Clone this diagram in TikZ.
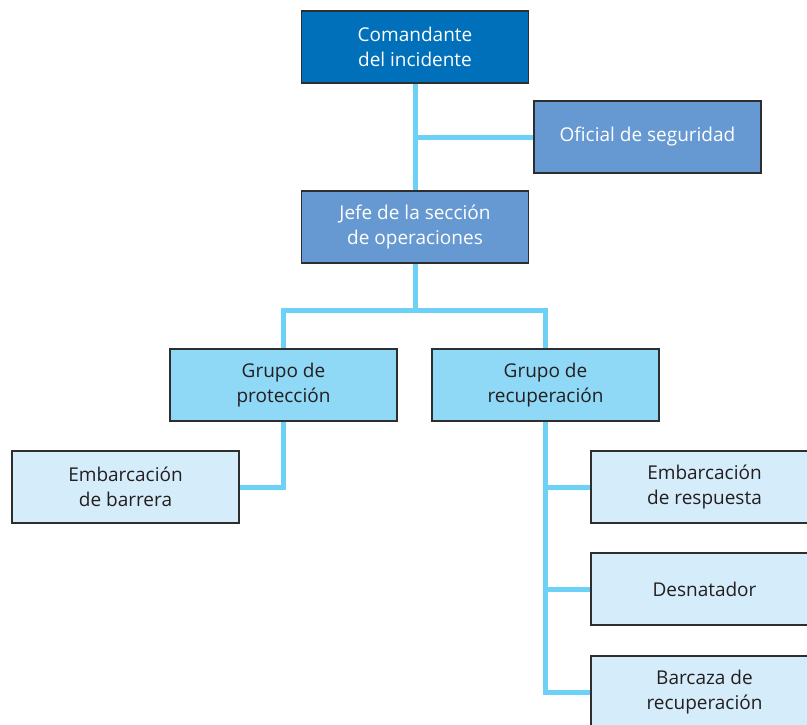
\documentclass[tikz,border=0pt]{standalone}
\usepackage{fontspec}
\setmainfont{Open Sans}
\usetikzlibrary{backgrounds}
\definecolor{cmdblue}{HTML}{0070BA}
\definecolor{midblue}{HTML}{6699D1}
\definecolor{grpblue}{HTML}{8FD8F6}
\definecolor{paleblue}{HTML}{D5ECFA}
\definecolor{linkblue}{HTML}{6DD0F5}
\definecolor{boxedge}{HTML}{2E2E2E}
\definecolor{inktext}{HTML}{231F20}
\tikzset{
  unit box/.style={draw=boxedge, line width=1.2pt, minimum width=227pt,
    minimum height=72pt, inner sep=0pt, align=center,
    font=\fontsize{19}{25}\selectfont},
  chief/.style={unit box, fill=cmdblue, text=white},
  section/.style={unit box, fill=midblue, text=white},
  group/.style={unit box, fill=grpblue, text=inktext},
  resource/.style={unit box, fill=paleblue, text=inktext},
  link/.style={draw=linkblue, line width=5pt}
}
\begin{document}
\begin{tikzpicture}[x=1pt, y=-1pt]
  \useasboundingbox (0,0) rectangle (807,724);
  \clip (0,0) rectangle (807,724);

  % command staff
  \node[chief]   (com)  at (415,47)   {Comandante\\del incidente};
  \node[section] (ofi)  at (647.5,137) {Oficial de seguridad};
  \node[section] (jefe) at (415,227)  {Jefe de la sección\\de operaciones};

  % groups
  \node[group] (prot) at (283.5,385) {Grupo de\\protección};
  \node[group] (rec)  at (545.5,385) {Grupo de\\recuperación};

  % resources
  \node[resource] (barr) at (125.5,487) {Embarcación\\de barrera};
  \node[resource] (resp) at (704.5,487) {Embarcación\\de respuesta};
  \node[resource] (desn) at (704.5,589) {Desnatador};
  \node[resource] (barc) at (704.5,692) {Barcaza de\\recuperación};

  \coordinate (split) at (415,310);

  \begin{scope}[on background layer]
    \draw[link] (com.south) -- (jefe.north);
    \draw[link] (ofi.west) -- (ofi.west -| com.south);
    \draw[link] (jefe.south) -- (split);
    \draw[link] (prot.north) |- (split) -| (rec.north);
    \draw[link] (prot.south) |- (barr.east);
    \draw[link] (rec.south) |- (resp.west);
    \draw[link] (rec.south) |- (desn.west);
    \draw[link] (rec.south) |- (barc.west);
  \end{scope}
\end{tikzpicture}
\end{document}
